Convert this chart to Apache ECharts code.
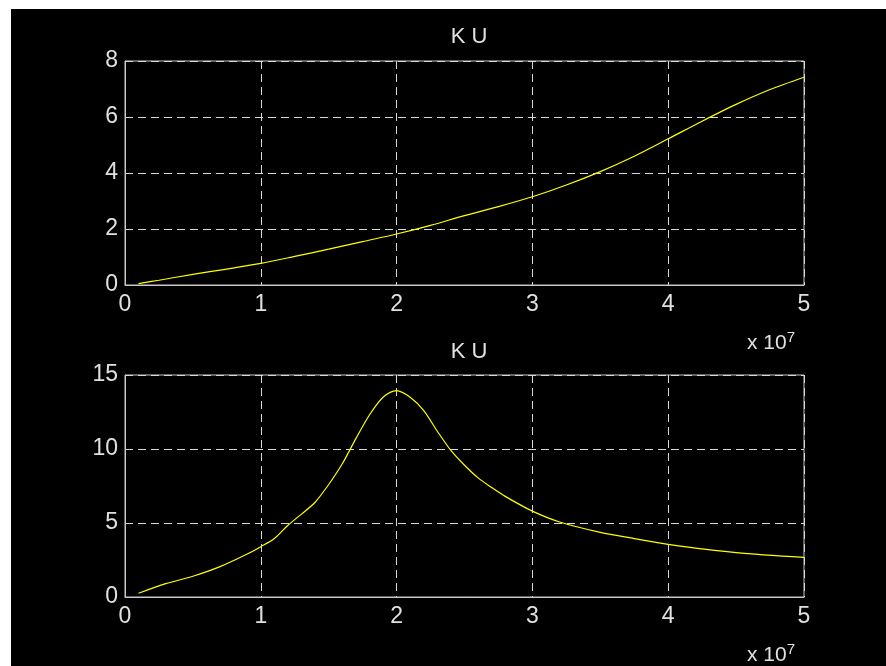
<!DOCTYPE html>
<html>
<head>
<meta charset="utf-8">
<script src="https://cdn.jsdelivr.net/npm/echarts@6/dist/echarts.min.js"></script>
<style>
  html, body { margin: 0; padding: 0; background: #fff; }
  #main { width: 886px; height: 666px; }
</style>
</head>
<body>
<div id="main"></div>
<script>
// x values in units of 10^7
var xTop = [0.1, 0.25, 0.5, 0.75, 1.0, 1.25, 1.5, 1.75, 2.0, 2.25, 2.5, 2.75, 3.0, 3.25, 3.5, 3.75, 4.0, 4.25, 4.5, 4.75, 5.0];
var kuTop = [0.05, 0.17, 0.38, 0.57, 0.77, 1.02, 1.28, 1.55, 1.82, 2.13, 2.48, 2.8, 3.15, 3.57, 4.05, 4.6, 5.22, 5.85, 6.45, 6.98, 7.42];

var xBottom = [0.1, 0.3, 0.5, 0.7, 0.9, 1.0, 1.1, 1.2, 1.3, 1.4, 1.5, 1.6, 1.7, 1.8, 1.9, 2.0, 2.1, 2.2, 2.3, 2.4, 2.5, 2.6, 2.7, 2.8, 3.0, 3.2, 3.5, 3.75, 4.0, 4.5, 5.0];
var kuBottom = [0.25, 0.9, 1.4, 2.05, 2.9, 3.4, 3.95, 4.85, 5.6, 6.4, 7.6, 9.0, 10.7, 12.3, 13.5, 13.95, 13.5, 12.6, 11.2, 9.9, 8.9, 8.05, 7.4, 6.8, 5.8, 5.07, 4.37, 3.95, 3.56, 3.0, 2.68];

var titleText = 'K U';
var xTicks = [0, 1, 2, 3, 4, 5];
var yTicksTop = [0, 2, 4, 6, 8];
var yTicksBottom = [0, 5, 10, 15];

function pairs(xs, ys) {
    return xs.map(function (x, i) { return [x, ys[i]]; });
}

var fontFamily = '"Liberation Sans", Arial, sans-serif';
var textColor = '#e0e0e0';
var boxColor = '#c8c8c8';
var gridColor = '#d8d8d8';

function xAxisFor(gridIndex) {
    return {
        type: 'value',
        gridIndex: gridIndex,
        min: xTicks[0],
        max: xTicks[xTicks.length - 1],
        interval: 1,
        axisLine: { show: true, lineStyle: { color: boxColor, width: 1 } },
        axisTick: { show: false },
        axisLabel: { color: textColor, fontSize: 23, fontFamily: fontFamily, margin: 8 },
        splitLine: { show: true, lineStyle: { color: gridColor, type: [8, 5], width: 1 } }
    };
}

function yAxisFor(gridIndex, ticks) {
    return {
        type: 'value',
        gridIndex: gridIndex,
        min: ticks[0],
        max: ticks[ticks.length - 1],
        interval: ticks[1] - ticks[0],
        axisLine: { show: true, lineStyle: { color: boxColor, width: 1 } },
        axisTick: { show: false },
        axisLabel: { color: textColor, fontSize: 23, fontFamily: fontFamily, margin: 7 },
        splitLine: { show: true, lineStyle: { color: gridColor, type: [8, 5], width: 1 } }
    };
}

var expText = {
    type: 'text',
    style: {
        text: '{a|x 10}{b|7}',
        fill: textColor,
        rich: {
            a: { fontSize: 21, fontFamily: fontFamily, fill: textColor },
            b: { fontSize: 15, fontFamily: fontFamily, fill: textColor, verticalAlign: 'top', padding: [0, 0, 12, 0] }
        }
    }
};

var chart = echarts.init(document.getElementById('main'));
var option = {
    backgroundColor: '#000',
    animation: false,
    title: [
        { text: titleText, left: 464, top: 21, textAlign: 'center',
          textStyle: { color: textColor, fontSize: 22, fontWeight: 'normal', fontFamily: fontFamily } },
        { text: titleText, left: 464, top: 336, textAlign: 'center',
          textStyle: { color: textColor, fontSize: 22, fontWeight: 'normal', fontFamily: fontFamily } }
    ],
    grid: [
        { left: 125, top: 61, width: 679, height: 224, show: true, borderColor: boxColor, borderWidth: 1, backgroundColor: 'transparent' },
        { left: 125, top: 375, width: 679, height: 222, show: true, borderColor: boxColor, borderWidth: 1, backgroundColor: 'transparent' }
    ],
    xAxis: [xAxisFor(0), xAxisFor(1)],
    yAxis: [yAxisFor(0, yTicksTop), yAxisFor(1, yTicksBottom)],
    series: [
        { type: 'line', xAxisIndex: 0, yAxisIndex: 0, data: pairs(xTop, kuTop), showSymbol: false,
          smooth: 0.3, lineStyle: { color: '#ffff00', width: 1.2 } },
        { type: 'line', xAxisIndex: 1, yAxisIndex: 1, data: pairs(xBottom, kuBottom), showSymbol: false,
          smooth: 0.3, lineStyle: { color: '#ffff00', width: 1.2 } }
    ],
    graphic: [
        { type: 'rect', left: 0, top: 0, shape: { width: 886, height: 9 }, style: { fill: '#fff' }, z: 100 },
        { type: 'rect', left: 0, top: 0, shape: { width: 11, height: 666 }, style: { fill: '#fff' }, z: 100 },
        Object.assign({ left: 747, top: 330 }, expText),
        Object.assign({ left: 747, top: 642 }, expText)
    ]
};
chart.setOption(option);
</script>
</body>
</html>
